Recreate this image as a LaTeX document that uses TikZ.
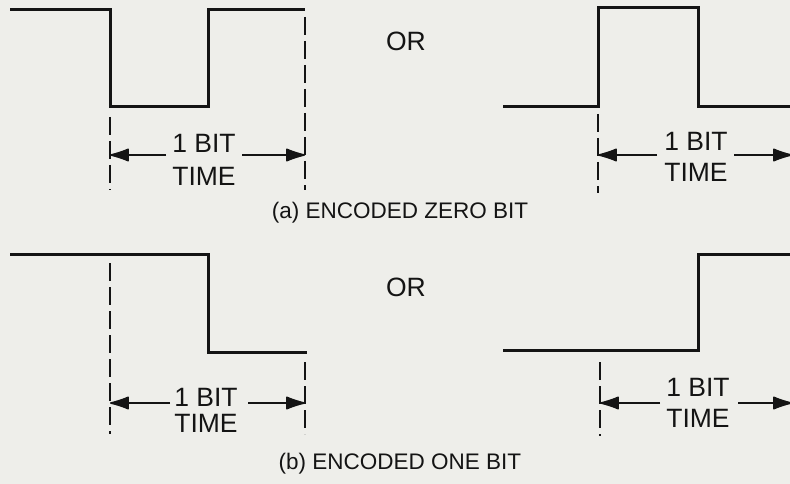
\documentclass[tikz,border=0pt]{standalone}
\usepackage{fontspec}
\setmainfont{Liberation Sans}
\usetikzlibrary{arrows.meta}
\definecolor{paper}{RGB}{238,238,234}
\definecolor{ink}{RGB}{20,20,20}
\tikzset{
  wave/.style={line width=3pt, ink, line join=miter},
  guide/.style={line width=2pt, ink, dash pattern=on 18pt off 6pt},
  dim/.style={line width=1.6pt, ink, -{Latex[length=22pt,width=14pt,round]}},
  lbl/.style={font=\fontsize{26.5}{28}\selectfont, text=ink, inner sep=0pt},
  captxt/.style={font=\fontsize{22.5}{25}\selectfont, text=ink, inner sep=0pt},
}
\begin{document}
\begin{tikzpicture}[x=1pt,y=-1pt]
\fill[paper] (0,0) rectangle (790,484);
\useasboundingbox (0,0) rectangle (790,484);

% ---------- (a) left waveform ----------
\draw[wave] (10,10) -- (110,10) -- (110,107) -- (208,107) -- (208,10) -- (305,10);
\draw[guide] (110,117) -- (110,190);
\draw[guide] (305,17) -- (305,190);
\node[lbl] (a1bit) at (204,143) {1 BIT};
\node[lbl] (a1time) at (204,176) {TIME};
\coordinate (a1L) at (110,155);
\coordinate (a1R) at (305,155);
\coordinate (a1Ls) at (166,155);
\coordinate (a1Rs) at (242,155);
\draw[dim] (a1Ls) -- (a1L);
\draw[dim] (a1Rs) -- (a1R);

\node[lbl] (or1) at (406,41) {OR};

% ---------- (a) right waveform ----------
\draw[wave] (503,107) -- (598,107) -- (598,8) -- (698,8) -- (698,107) -- (790,107);
\draw[guide] (598,114) -- (598,193);
\node[lbl] (a2bit) at (696,141) {1 BIT};
\node[lbl] (a2time) at (696,172) {TIME};
\coordinate (a2L) at (598,155);
\coordinate (a2R) at (792,155);
\coordinate (a2Ls) at (657,155);
\coordinate (a2Rs) at (734,155);
\draw[dim] (a2Ls) -- (a2L);
\draw[dim] (a2Rs) -- (a2R);

\node[captxt] (capa) at (400,213) {(a) ENCODED ZERO BIT};

% ---------- (b) left waveform ----------
\draw[wave] (10,254) -- (208,254) -- (208,352) -- (307,352);
\draw[guide] (110,263) -- (110,434);
\draw[guide] (305,362) -- (305,434);
\node[lbl] (b1bit) at (206,397) {1 BIT};
\node[lbl] (b1time) at (206,423) {TIME};
\coordinate (b1L) at (110,403);
\coordinate (b1R) at (305,403);
\coordinate (b1Ls) at (170,403);
\coordinate (b1Rs) at (248,403);
\draw[dim] (b1Ls) -- (b1L);
\draw[dim] (b1Rs) -- (b1R);

\node[lbl] (or2) at (406,287) {OR};

% ---------- (b) right waveform ----------
\draw[wave] (503,350) -- (698,350) -- (698,254) -- (790,254);
\draw[guide] (600,362) -- (600,436);
\node[lbl] (b2bit) at (698,387) {1 BIT};
\node[lbl] (b2time) at (698,418) {TIME};
\coordinate (b2L) at (600,403);
\coordinate (b2R) at (792,403);
\coordinate (b2Ls) at (660,403);
\coordinate (b2Rs) at (738,403);
\draw[dim] (b2Ls) -- (b2L);
\draw[dim] (b2Rs) -- (b2R);

\node[captxt] (capb) at (400,464) {(b) ENCODED ONE BIT};
\end{tikzpicture}
\end{document}
